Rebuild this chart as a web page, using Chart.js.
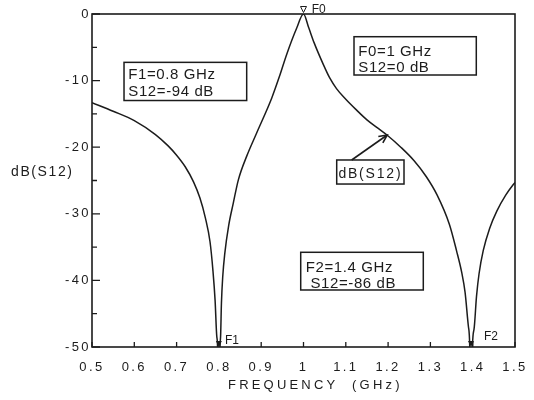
<!DOCTYPE html>
<html>
<head>
<meta charset="utf-8">
<script src="https://cdn.jsdelivr.net/npm/chart.js@4.4.1/dist/chart.umd.min.js"></script>
<style>
  html, body { margin: 0; padding: 0; background: #fff; }
  #wrap { width: 534px; height: 400px; }
</style>
</head>
<body>
<div id="wrap"><canvas id="c" width="534" height="400"></canvas></div>
<script>
// ---- data ----
const freqGHz = [0.50,0.55,0.60,0.65,0.68,0.70,0.72,0.74,0.755,0.768,0.779,0.786,0.791,0.795,0.7985,0.80,0.8015,0.804,0.806,0.809,0.814,0.823,0.834,0.846,0.866,0.889,0.925,0.943,0.96,0.984,1.0,1.012,1.025,1.047,1.062,1.078,1.10,1.125,1.15,1.175,1.198,1.23,1.261,1.29,1.316,1.345,1.362,1.374,1.382,1.390,1.394,1.396,1.398,1.403,1.409,1.415,1.425,1.44,1.457,1.478,1.496,1.50];
const s12dB   = [-13.3,-14.6,-16.0,-18.1,-19.8,-21.2,-22.9,-25.2,-27.6,-30.6,-34.2,-38.6,-43.0,-48.4,-55,-94,-55,-48.4,-43.4,-39.5,-35.9,-31.8,-28.4,-24.9,-21.3,-17.9,-12.6,-9.4,-6.1,-2.1,0,-2.0,-4.3,-7.6,-9.6,-11.2,-12.8,-14.4,-15.9,-17.1,-18.2,-20.0,-22.0,-24.4,-27.2,-31.6,-35.6,-38.8,-41.8,-47.0,-53,-86,-53,-47.4,-42.4,-39.0,-35.5,-32.2,-29.6,-27.2,-25.6,-25.3];
const xTickLabels = ['0.5','0.6','0.7','0.8','0.9','1','1.1','1.2','1.3','1.4','1.5'];
const yTickLabels = ['-50','-40','-30','-20','-10','0'];
const markerNames = ['F0','F1','F2'];
const markerFreq  = [1.0, 0.8, 1.396];
const markerLevel = [0, -94, -86];
const noteLines = [['F1=0.8 GHz','S12=-94 dB'], ['F0=1 GHz','S12=0 dB'], ['F2=1.4 GHz',' S12=-86 dB']];
const curveName = 'dB(S12)';
const xTitle = 'FREQUENCY  (GHz)';
const yTitle = 'dB(S12)';

// ---- placement of the annotations (data units of the axes) ----
const notePlace = [
  {x1:0.5757, x2:0.8657, y1:-7.26, y2:-12.99, tx:0.5858, base:[-9.76,-12.27]},
  {x1:1.1194, x2:1.4085, y1:-3.41, y2:-9.16, tx:1.1296, base:[-6.26,-8.66]},
  {x1:0.9934, x2:1.2832, y1:-35.78, y2:-41.44, tx:1.0052, base:[-38.69,-41.19]}
];
const curveBox = {x1:1.0785, x2:1.2376, y1:-21.92, y2:-25.53, tx:1.0825, base:-24.62,
                  ax1:1.1139, ay1:-21.92, ax2:1.1979, ay2:-18.17};
const markerText = [{x:1.0194, y:0.2}, {x:0.8144, y:-49.5}, {x:1.4267, y:-49.0}];
const xTitleCenter = 1.028;   // axis units

const INK = '#1c1c1c';
const FONT = "'Liberation Sans', Arial, Helvetica, sans-serif";

const decor = {
  id: 'decor',
  beforeDraw(chart) {
    const ctx = chart.ctx;
    ctx.save();
    ctx.fillStyle = '#fff';
    ctx.fillRect(0, 0, chart.width, chart.height);
    ctx.restore();
    ctx.letterSpacing = '2.4px';
  },
  beforeDatasetsDraw(chart) {
    chart.ctx.letterSpacing = '0px';
  },
  afterDatasetsDraw(chart) {
    const ctx = chart.ctx;
    const a = chart.chartArea;
    const xs = chart.scales.x, ys = chart.scales.y;
    const X = v => xs.getPixelForValue(v), Y = v => ys.getPixelForValue(v);
    ctx.save();
    ctx.letterSpacing = '0px';
    ctx.strokeStyle = INK;
    ctx.fillStyle = INK;
    // frame
    ctx.lineWidth = 1.6;
    ctx.strokeRect(a.left, a.top, a.right - a.left, a.bottom - a.top);
    // inward tick marks
    ctx.lineWidth = 1.3;
    ctx.beginPath();
    xs.ticks.forEach((t, i) => {
      const px = xs.getPixelForTick(i);
      ctx.moveTo(px, a.bottom); ctx.lineTo(px, a.bottom - 5);
    });
    ys.ticks.forEach((t, i) => {
      const py = ys.getPixelForTick(i);
      const len = (i % 2 === 0) ? 8 : 5;
      ctx.moveTo(a.left, py); ctx.lineTo(a.left + len, py);
    });
    ctx.stroke();

    // markers (triangles pointing down, tip at the value, clamped to the axis range)
    markerFreq.forEach((f, i) => {
      const lvl = Math.max(ys.min, Math.min(ys.max, markerLevel[i]));
      const px = X(f), py = Y(lvl) - (i === 0 ? 1.5 : 0);
      ctx.beginPath();
      ctx.moveTo(px, py);
      ctx.lineTo(px - 3, py - 6);
      ctx.lineTo(px + 3, py - 6);
      ctx.closePath();
      if (i === 0) { ctx.fillStyle = '#fff'; ctx.fill(); ctx.lineWidth = 1; ctx.stroke(); ctx.fillStyle = INK; }
      else ctx.fill();
      ctx.font = '12px ' + FONT;
      ctx.textAlign = 'left';
      ctx.textBaseline = 'alphabetic';
      ctx.fillText(markerNames[i], X(markerText[i].x), Y(markerText[i].y));
    });

    // note boxes
    ctx.lineWidth = 1.5;
    ctx.font = '15px ' + FONT;
    ctx.letterSpacing = '0.6px';
    notePlace.forEach((p, i) => {
      ctx.strokeRect(X(p.x1), Y(p.y1), X(p.x2) - X(p.x1), Y(p.y2) - Y(p.y1));
      noteLines[i].forEach((s, k) => ctx.fillText(s, X(p.tx), Y(p.base[k])));
    });

    // curve label box + arrow
    ctx.font = '14px ' + FONT;
    ctx.letterSpacing = '1.8px';
    ctx.strokeRect(X(curveBox.x1), Y(curveBox.y1), X(curveBox.x2) - X(curveBox.x1), Y(curveBox.y2) - Y(curveBox.y1));
    ctx.fillText(curveName, X(curveBox.tx), Y(curveBox.base));
    const x1 = X(curveBox.ax1), y1 = Y(curveBox.ay1), x2 = X(curveBox.ax2), y2 = Y(curveBox.ay2);
    ctx.lineWidth = 1.6;
    ctx.beginPath(); ctx.moveTo(x1, y1); ctx.lineTo(x2, y2); ctx.stroke();
    const ang = Math.atan2(y2 - y1, x2 - x1);
    ctx.beginPath();
    ctx.moveTo(x2 - 9 * Math.cos(ang - 0.45), y2 - 9 * Math.sin(ang - 0.45));
    ctx.lineTo(x2, y2);
    ctx.lineTo(x2 - 9 * Math.cos(ang + 0.45), y2 - 9 * Math.sin(ang + 0.45));
    ctx.stroke();

    // horizontal y-axis title
    ctx.font = '14px ' + FONT;
    ctx.letterSpacing = '1.6px';
    ctx.textAlign = 'left';
    ctx.fillText(yTitle, 11, (a.top + a.bottom) / 2 - 5);

    // x-axis title
    ctx.font = '13px ' + FONT;
    ctx.letterSpacing = '3.2px';
    ctx.textAlign = 'center';
    ctx.textBaseline = 'middle';
    ctx.fillText(xTitle, X(xTitleCenter), a.bottom + 38);
    ctx.restore();
  }
};

new Chart(document.getElementById('c'), {
  type: 'line',
  data: {
    datasets: [{
      label: curveName,
      data: freqGHz.map((f, i) => ({x: f, y: s12dB[i]})),
      borderColor: INK,
      borderWidth: 1.5,
      pointRadius: 0,
      fill: false,
      cubicInterpolationMode: 'monotone'
    }]
  },
  options: {
    responsive: false,
    animation: false,
    devicePixelRatio: 1,
    layout: { padding: { left: 0, right: 19, top: 14, bottom: 0 } },
    plugins: { legend: { display: false }, tooltip: { enabled: false } },
    scales: {
      x: {
        type: 'linear', min: 0.5, max: 1.5,
        grid: { display: false, drawTicks: false },
        border: { display: false },
        ticks: {
          stepSize: 0.1, autoSkip: false, maxRotation: 0, padding: 13,
          color: INK, font: { family: FONT, size: 13 },
          callback: (v, i) => xTickLabels[i]
        },
        title: { display: false },
        afterFit: s => { s.height = 53; s.paddingLeft = 0; s.paddingRight = 0; }
      },
      y: {
        min: -50, max: 0,
        grid: { display: false, drawTicks: false },
        border: { display: false },
        ticks: {
          stepSize: 5, autoSkip: false, padding: 1,
          color: INK, font: { family: FONT, size: 13 },
          callback: (v, i) => (i % 2 === 0 ? yTickLabels[i / 2] : '')
        },
        afterFit: s => { s.width = 92; s.paddingTop = 0; s.paddingBottom = 0; }
      }
    }
  },
  plugins: [decor]
});
</script>
</body>
</html>
